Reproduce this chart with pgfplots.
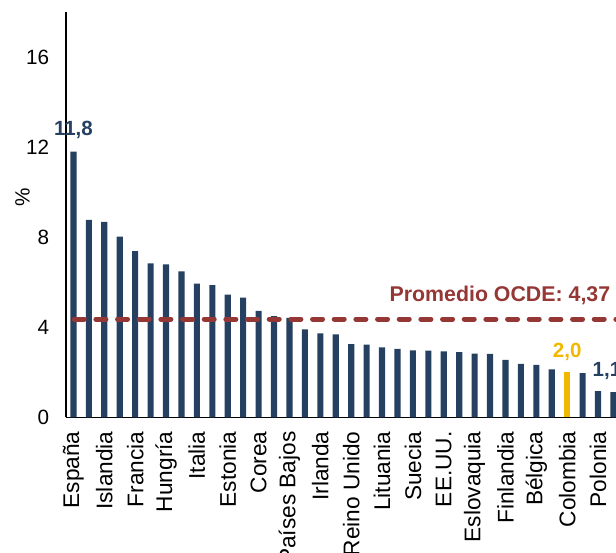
\documentclass[border=0pt]{standalone}
\usepackage{fontspec}
\setmainfont{Liberation Sans}
\usepackage{pgfplots}
\pgfplotsset{compat=1.18}
\definecolor{navy}{RGB}{38,64,97}
\definecolor{ocde}{RGB}{149,55,53}
\definecolor{gold}{RGB}{242,183,0}

\begin{document}
\begin{tikzpicture}
\useasboundingbox (-49.3pt,-101.6pt) rectangle (412.7pt,313.1pt);
\begin{axis}[
 at={(0,0)}, anchor=south west,
 scale only axis, width=416.6pt, height=304.1pt,
 xmin=-0.5, xmax=35.5, ymin=0, ymax=18,
 axis x line=bottom, axis y line=left,
 axis line style={-, line width=1.3pt, black},
 ytick={0,4,8,12,16},
 xtick={0,2,...,34},
 xticklabels={España,Islandia,Francia,Hungría,Italia,Estonia,Corea,Países Bajos,Irlanda,Reino Unido,Lituania,Suecia,EE.UU.,Eslovaquia,Finlandia,Bélgica,Colombia,Polonia},
 major tick length=0pt,
 /pgf/number format/assume math mode=true,
 yticklabel style={font=\fontsize{15.5}{18}\selectfont},
 yticklabel shift=9pt,
 xticklabel style={rotate=90, anchor=east, font=\fontsize{17}{20}\selectfont},
 xticklabel shift=7pt,
 ylabel={\%},
 ylabel style={at={(axis description cs:-0.0778,0.544)}, anchor=center, font=\fontsize{15.5}{18}\selectfont},
 ybar, bar width=4.6pt,
 clip=false,
]
\addplot[fill=navy, draw=none, bar shift=0pt] coordinates {
(0,11.8) (1,8.77) (2,8.68) (3,8.03) (4,7.39) (5,6.84) (6,6.80) (7,6.49)
(8,5.94) (9,5.88) (10,5.45) (11,5.32) (12,4.73) (13,4.50) (14,4.42) (15,3.91)
(16,3.73) (17,3.69) (18,3.26) (19,3.23) (20,3.11) (21,3.05) (22,2.98) (23,2.97)
(24,2.93) (25,2.90) (26,2.83) (27,2.82) (28,2.56) (29,2.38) (30,2.33) (31,2.13)
(33,1.97) (34,1.17) (35,1.12)
};
\addplot[fill=gold, draw=none, bar shift=0pt] coordinates {(32,2.03)};
\addplot[sharp plot, ocde, line width=3.75pt, line cap=round, dash pattern=on 7.5pt off 8.75pt] coordinates {(0.05,4.37) (35.5,4.37)};
\node[anchor=base, text=navy, font=\bfseries\fontsize{15.4}{18}\selectfont, yshift=11.8pt] at (axis cs:0,11.8) {11,8};
\node[anchor=base, text=gold, font=\bfseries\fontsize{15.4}{18}\selectfont, yshift=11pt] at (axis cs:32,2.03) {2,0};
\node[anchor=base, text=navy, font=\bfseries\fontsize{15.4}{18}\selectfont, yshift=11.5pt] at (axis cs:34.58,1.12) {1,1};
\node[anchor=center, text=ocde, font=\bfseries\fontsize{16}{19}\selectfont] at (axis cs:27.64,5.44) {Promedio OCDE: 4,37};
\end{axis}
\end{tikzpicture}
\end{document}
